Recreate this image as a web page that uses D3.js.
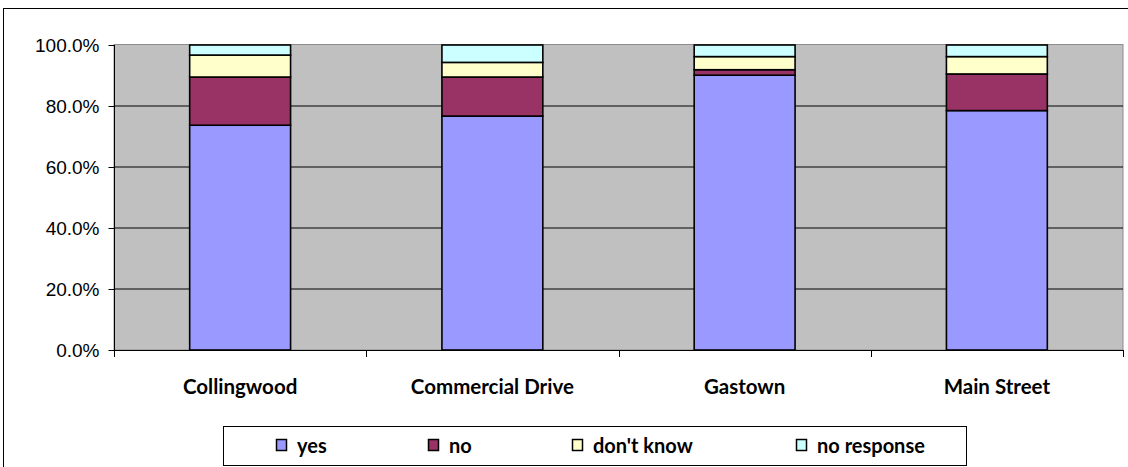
<!DOCTYPE html>
<html>
<head>
<meta charset="utf-8">
<script src="https://cdn.jsdelivr.net/npm/d3@7"></script>
<style>
  html, body { margin: 0; padding: 0; background: #fff; }
  svg { display: block; }
</style>
</head>
<body>
<svg id="chart" width="1128" height="467"></svg>
<script>
// Survey responses by neighbourhood (share of respondents)
const categories = ["Collingwood", "Commercial Drive", "Gastown", "Main Street"];
const seriesNames = ["yes", "no", "don't know", "no response"];
const yes        = [0.737, 0.767, 0.901, 0.785];
const no         = [0.158, 0.128, 0.018, 0.120];
const dontKnow   = [0.072, 0.048, 0.043, 0.057];
const noResponse = [0.033, 0.057, 0.038, 0.038];
const yTicks = [0, 0.2, 0.4, 0.6, 0.8, 1.0];
const colors = ["#9999FF", "#993366", "#FFFFCC", "#CCFFFF"];

const rows = categories.map((c, i) => ({
  category: c,
  "yes": yes[i], "no": no[i], "don't know": dontKnow[i], "no response": noResponse[i]
}));

const svg = d3.select("#chart");
const plot = { left: 114, right: 1123, top: 45, bottom: 350 };

// outer chart frame (continues past the visible area)
svg.append("rect")
  .attr("x", 3.5).attr("y", 8.5).attr("width", 1140).attr("height", 480)
  .attr("fill", "#fff").attr("stroke", "#000").attr("stroke-width", 1);

const x = d3.scaleBand().domain(categories)
  .range([plot.left, plot.right]).paddingInner(0.6).paddingOuter(0.3);
const xOuter = d3.scaleBand().domain(categories).range([plot.left, plot.right]);
const y = d3.scaleLinear().domain([0, 1]).range([plot.bottom, plot.top]);

// plot background
svg.append("rect")
  .attr("x", plot.left).attr("y", plot.top - 0.5)
  .attr("width", plot.right - plot.left).attr("height", plot.bottom - plot.top + 0.5)
  .attr("fill", "#C0C0C0").attr("stroke", "#8c8c8c").attr("stroke-width", 1);

// horizontal gridlines
svg.append("g").selectAll("line").data(yTicks.filter(t => t > 0 && t < 1)).join("line")
  .attr("x1", plot.left).attr("x2", plot.right)
  .attr("y1", d => Math.round(y(d))).attr("y2", d => Math.round(y(d)))
  .attr("stroke", "#000").attr("stroke-width", 1);

// stacked bars
const stack = d3.stack().keys(seriesNames)(rows);
svg.append("g").selectAll("g").data(stack).join("g")
  .attr("fill", (d, i) => colors[i])
  .selectAll("rect").data(d => d).join("rect")
    .attr("x", d => x(d.data.category))
    .attr("width", x.bandwidth())
    .attr("y", d => y(d[1]))
    .attr("height", d => y(d[0]) - y(d[1]))
    .attr("stroke", "#000").attr("stroke-width", 1.6);

// y axis
const yAxis = d3.axisLeft(y).tickValues(yTicks).tickFormat(d3.format(".1%"))
  .tickSize(6).tickPadding(9);
const gy = svg.append("g").attr("transform", `translate(${plot.left + 0.5},0)`).call(yAxis);
gy.select(".domain").attr("d", `M0,${plot.top}V${plot.bottom + 6}`).attr("stroke", "#000");
gy.selectAll(".tick line").attr("stroke", "#000");
gy.selectAll(".tick text")
  .attr("font-family", "'Liberation Sans', Arial, sans-serif")
  .attr("font-size", 19).attr("fill", "#000");

// x axis line with ticks at category boundaries
const gx = svg.append("g");
gx.append("line")
  .attr("x1", plot.left).attr("x2", plot.right)
  .attr("y1", plot.bottom + 0.5).attr("y2", plot.bottom + 0.5)
  .attr("stroke", "#000");
const bounds = categories.map(c => xOuter(c)).concat([plot.right]);
gx.selectAll("line.tk").data(bounds).join("line").attr("class", "tk")
  .attr("x1", d => Math.round(d) + 0.5).attr("x2", d => Math.round(d) + 0.5)
  .attr("y1", plot.bottom).attr("y2", plot.bottom + 7)
  .attr("stroke", "#000");
gx.selectAll("text").data(categories).join("text")
  .attr("x", d => xOuter(d) + xOuter.bandwidth() / 2)
  .attr("y", 394)
  .attr("text-anchor", "middle")
  .attr("font-family", "Lato, 'Open Sans', sans-serif")
  .attr("font-weight", "bold").attr("font-size", 20.5)
  .attr("fill", "#000")
  .text(d => d);

// legend
const legend = svg.append("g");
legend.append("rect")
  .attr("x", 223.5).attr("y", 426.5).attr("width", 743).attr("height", 39)
  .attr("fill", "#fff").attr("stroke", "#000").attr("stroke-width", 1);
const legendX = [276, 428, 572, 796];
const items = legend.selectAll("g.item").data(seriesNames).join("g")
  .attr("class", "item")
  .attr("transform", (d, i) => `translate(${legendX[i]},0)`);
items.append("rect")
  .attr("x", 0.5).attr("y", 439.5).attr("width", 10).attr("height", 11)
  .attr("fill", (d, i) => colors[i]).attr("stroke", "#000").attr("stroke-width", 1.5);
items.append("text")
  .attr("x", 21).attr("y", 453)
  .attr("font-family", "Lato, 'Open Sans', sans-serif")
  .attr("font-weight", "bold").attr("font-size", 20)
  .attr("fill", "#000")
  .text(d => d);
</script>
</body>
</html>
